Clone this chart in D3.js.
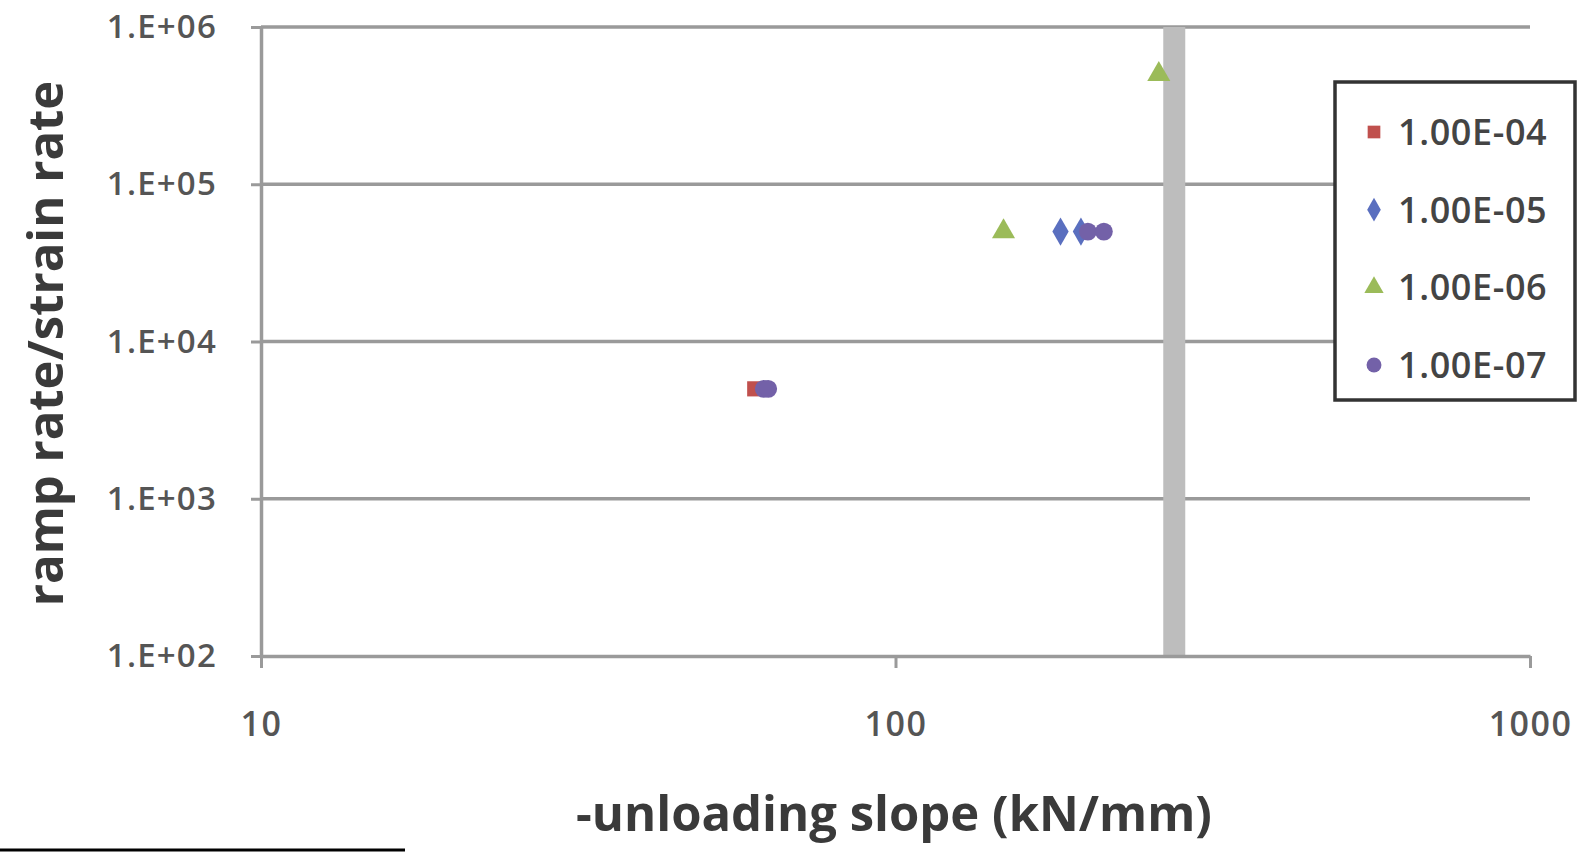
<!DOCTYPE html>
<html>
<head>
<meta charset="utf-8">
<script src="https://cdn.jsdelivr.net/npm/d3@7"></script>
<style>
  html, body { margin: 0; padding: 0; background: #fff; }
  svg { display: block; }
  text { font-family: "Open Sans", "DejaVu Sans", sans-serif; }
</style>
</head>
<body>
<svg id="chart" width="1587" height="853"></svg>
<script>
// Ramp rate / strain rate versus unloading slope, one series per strain rate
const seriesNames = ["1.00E-04", "1.00E-05", "1.00E-06", "1.00E-07"];
const s1e4X = [60];
const s1e4Y = [5000];
const s1e5X = [182, 196];
const s1e5Y = [50000, 50000];
const s1e6X = [148, 260];
const s1e6Y = [50000, 500000];
const s1e7X = [62, 63, 201, 213];
const s1e7Y = [5000, 5000, 50000, 50000];
const xTicks = [10, 100, 1000];
const yTicks = [1e2, 1e3, 1e4, 1e5, 1e6];
const yTickLabels = ["1.E+02", "1.E+03", "1.E+04", "1.E+05", "1.E+06"];
const markerLine = 275; // vertical reference line on the slope axis

const seriesData = [
  { name: seriesNames[0], xs: s1e4X, ys: s1e4Y, color: "#c0504d", sym: d3.symbolSquare, size: 230 },
  { name: seriesNames[1], xs: s1e5X, ys: s1e5Y, color: "#5a6fbf", sym: d3.symbolDiamond, size: 230 },
  { name: seriesNames[2], xs: s1e6X, ys: s1e6Y, color: "#9bbb59", sym: d3.symbolTriangle, size: 230 },
  { name: seriesNames[3], xs: s1e7X, ys: s1e7Y, color: "#7361a8", sym: d3.symbolCircle, size: 250 }
];

const svg = d3.select("#chart");
const plotL = 261, plotR = 1530, plotT = 27, plotB = 656;

const x = d3.scaleLog().domain([10, 1000]).range([plotL, plotR]);
const y = d3.scaleLog().domain([1e2, 1e6]).range([plotB, plotT]);

const gridColor = "#9a9a9a";

// horizontal gridlines
svg.append("g").selectAll("line").data(yTicks.slice(1)).join("line")
  .attr("x1", plotL).attr("x2", plotR)
  .attr("y1", d => y(d)).attr("y2", d => y(d))
  .attr("stroke", gridColor).attr("stroke-width", 3.5);

// vertical reference band
svg.append("line")
  .attr("x1", x(markerLine)).attr("x2", x(markerLine))
  .attr("y1", y(1e6)).attr("y2", y(1e2))
  .attr("stroke", "#bdbdbd").attr("stroke-width", 22);

// y axis
const yAxis = d3.axisLeft(y).tickValues(yTicks)
  .tickFormat((d, i) => yTickLabels[i]).tickSizeInner(10).tickSizeOuter(0).tickPadding(34);
const gy = svg.append("g").attr("transform", `translate(${plotL},0)`).call(yAxis);
gy.select(".domain").attr("stroke", gridColor).attr("stroke-width", 3.5);
gy.selectAll(".tick line").attr("stroke", gridColor).attr("stroke-width", 3);
gy.selectAll(".tick text").attr("fill", "#555").attr("font-size", 33).attr("font-weight", 600)
  .attr("letter-spacing", 1.2).style("font-family", "'Open Sans', sans-serif");

// x axis
const xAxis = d3.axisBottom(x).tickValues(xTicks).tickFormat(d3.format("d"))
  .tickSizeInner(12).tickSizeOuter(0).tickPadding(44);
const gx = svg.append("g").attr("transform", `translate(0,${plotB})`).call(xAxis);
gx.select(".domain").attr("stroke", gridColor).attr("stroke-width", 3.5);
gx.selectAll(".tick line").attr("stroke", gridColor).attr("stroke-width", 3);
gx.selectAll(".tick text").attr("fill", "#555").attr("font-size", 34).attr("font-weight", 600)
  .attr("letter-spacing", 1.5).style("font-family", "'Open Sans', sans-serif");

// data points
seriesData.forEach(s => {
  const pts = s.xs.map((v, i) => [v, s.ys[i]]);
  svg.append("g").selectAll("path").data(pts).join("path")
    .attr("d", d3.symbol().type(s.sym).size(s.size))
    .attr("transform", d => `translate(${x(d[0])},${y(d[1])})`)
    .attr("fill", s.color);
});

// axis titles
svg.append("text")
  .attr("transform", `translate(63,${(plotT + plotB) / 2 + 2}) rotate(-90)`)
  .attr("text-anchor", "middle")
  .attr("font-size", 49).attr("font-weight", 700).attr("fill", "#3a3a3a")
  .text("ramp rate/strain rate");

svg.append("text")
  .attr("x", 894).attr("y", 831)
  .attr("text-anchor", "middle")
  .attr("font-size", 49).attr("font-weight", 700).attr("fill", "#3a3a3a")
  .text("-unloading slope (kN/mm)");

// legend
const lg = svg.append("g");
lg.append("rect").attr("x", 1335).attr("y", 82).attr("width", 240).attr("height", 318)
  .attr("fill", "#fff").attr("stroke", "#333").attr("stroke-width", 3.5);
const ly = d3.scalePoint().domain(seriesNames).range([132, 365]);
seriesData.forEach(s => {
  lg.append("path")
    .attr("d", d3.symbol().type(s.sym).size(s.size * 0.7))
    .attr("transform", `translate(1374,${ly(s.name)})`)
    .attr("fill", s.color);
  lg.append("text")
    .attr("x", 1398).attr("y", ly(s.name) + 13)
    .attr("font-size", 36).attr("font-weight", 600).attr("fill", "#444")
    .attr("letter-spacing", 0.6)
    .text(s.name);
});

// short rule below the plot area
svg.append("line").attr("x1", 0).attr("x2", 405).attr("y1", 850).attr("y2", 850)
  .attr("stroke", "#000").attr("stroke-width", 3);
</script>
</body>
</html>
